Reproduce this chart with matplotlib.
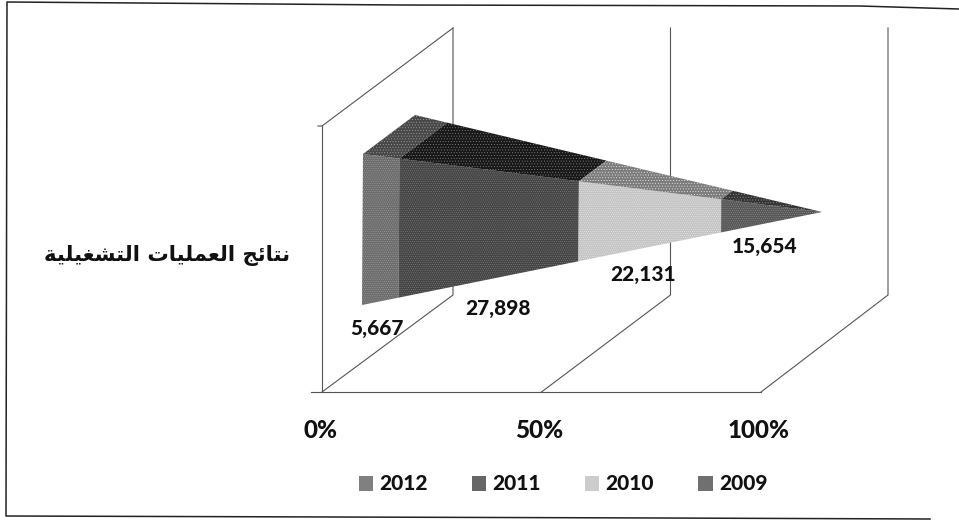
import matplotlib
matplotlib.use("Agg")
import matplotlib.pyplot as plt
from matplotlib.patches import Polygon, Patch

years = ["2012", "2011", "2010", "2009"]
values = [5667, 27898, 22131, 15654]
value_labels = ["5,667", "27,898", "22,131", "15,654"]
axis_ticks = [0, 50, 100]
tick_labels = ["0%", "50%", "100%"]
series_title = "نتائج العمليات التشغيلية"

front_colors = ["#6c6c6c", "#444444", "#c4c4c4", "#565656"]
top_colors = ["#484848", "#181818", "#7c7c7c", "#343434"]
dot_colors = ["#a8a8a8", "#8c8c8c", "#f0f0f0", "#9c9c9c"]
legend_colors = ["#808080", "#666666", "#cccccc", "#707070"]

# forms: isolated, final, initial, medial (None = does not join the next letter)
FORMS = {
    "ن": (0xFEE5, 0xFEE6, 0xFEE7, 0xFEE8),
    "ت": (0xFE95, 0xFE96, 0xFE97, 0xFE98),
    "ا": (0xFE8D, 0xFE8E, None, None),
    "ئ": (0xFE89, 0xFE8A, 0xFE8B, 0xFE8C),
    "ج": (0xFE9D, 0xFE9E, 0xFE9F, 0xFEA0),
    "ل": (0xFEDD, 0xFEDE, 0xFEDF, 0xFEE0),
    "ع": (0xFEC9, 0xFECA, 0xFECB, 0xFECC),
    "م": (0xFEE1, 0xFEE2, 0xFEE3, 0xFEE4),
    "ي": (0xFEF1, 0xFEF2, 0xFEF3, 0xFEF4),
    "ش": (0xFEB5, 0xFEB6, 0xFEB7, 0xFEB8),
    "غ": (0xFECD, 0xFECE, 0xFECF, 0xFED0),
    "ة": (0xFE93, 0xFE94, None, None),
}


def shape_arabic(text):
    """matplotlib does no Arabic shaping, so pick the glyph forms here and reverse."""
    out = []
    for i, ch in enumerate(text):
        if ch not in FORMS:
            out.append(ch)
            continue
        prev = text[i - 1] if i > 0 else " "
        nxt = text[i + 1] if i + 1 < len(text) else " "
        joins_prev = prev in FORMS and FORMS[prev][2] is not None
        joins_next = nxt in FORMS and FORMS[ch][2] is not None
        form = {(False, False): 0, (True, False): 1, (False, True): 2, (True, True): 3}[(joins_prev, joins_next)]
        out.append(chr(FORMS[ch][form]))
    return "".join(reversed(out))


def lerp(a, b, t):
    return (a[0] + (b[0] - a[0]) * t, a[1] + (b[1] - a[1]) * t)


plt.rcParams["hatch.linewidth"] = 0.3

fig = plt.figure(figsize=(9.59, 5.21), dpi=100)
ax = fig.add_axes([0, 0, 1, 1])
ax.set_xlim(0, 959)
ax.set_ylim(521, 0)
ax.axis("off")

# scanned frame: slightly skewed, open on the right
ax.plot([959, 860, 400, 7, 6, 660, 930], [9, 6, 5, 2, 516, 518, 519], color="#222222", lw=1.1)

# walls and floor, one gridline per axis tick
front_0, front_100 = 322, 761
back_0, back_100 = 453, 888
wall_top, wall_bottom = 28, 295
floor_front = 392
wall_color = "#555555"
for tick, label in zip(axis_ticks, tick_labels):
    fx = front_0 + (front_100 - front_0) * tick / 100
    bx = back_0 + (back_100 - back_0) * tick / 100
    ax.plot([fx, bx, bx], [floor_front, wall_bottom, wall_top], color=wall_color, lw=0.8, zorder=1)
    ax.text(fx - 2, 430, label, ha="center", va="center", fontsize=17.5, fontweight="black",
            family="Lato", color="#111111")

# left side wall and the front edge of the floor
ax.plot([318, 322, back_0], [126, 126, wall_top], color=wall_color, lw=0.8, zorder=1)
ax.plot([322, 322], [126, floor_front], color=wall_color, lw=0.8, zorder=1)
ax.plot([311, front_100], [floor_front, floor_front], color=wall_color, lw=0.8, zorder=1)

# 100% stacked pyramid lying on its side
corner_top = (363, 154)
corner_bottom = (362, 305)
corner_back = (415, 115)
apex = (822, 212)

total = sum(values)
start = 0
for i, val in enumerate(values):
    t0 = start / total
    t1 = (start + val) / total
    start += val
    ax.add_patch(Polygon([lerp(corner_top, apex, t0), lerp(corner_top, apex, t1),
                          lerp(corner_bottom, apex, t1), lerp(corner_bottom, apex, t0)],
                         fc=front_colors[i], ec=dot_colors[i], hatch="........", lw=0, zorder=3))
    ax.add_patch(Polygon([lerp(corner_top, apex, t0), lerp(corner_top, apex, t1),
                          lerp(corner_back, apex, t1), lerp(corner_back, apex, t0)],
                         fc=top_colors[i], ec=dot_colors[i], hatch="......", lw=0, zorder=3))

label_pos = [(377, 328), (498, 309), (643, 274), (765, 247)]
for (x, y), txt in zip(label_pos, value_labels):
    ax.text(x, y, txt, ha="center", va="center", fontsize=15, fontweight="black",
            family="Lato", color="#111111", zorder=5)

ax.text(290, 255, shape_arabic(series_title), ha="right", va="center", fontsize=15.3,
        fontweight="bold", family="DejaVu Sans", color="#111111")

handles = [Patch(fc=c, ec="none", label=y) for c, y in zip(legend_colors, years)]
prop = {"family": "Lato", "weight": "black", "size": 15}
ax.legend(handles=handles, ncol=4, loc="center", bbox_to_anchor=(563, 484),
          bbox_transform=ax.transData, frameon=False, prop=prop, handlelength=0.7,
          handleheight=0.7, handletextpad=0.3, columnspacing=2.1, labelcolor="#111111")

fig.savefig("out.png", dpi=100)
plt.close(fig)
